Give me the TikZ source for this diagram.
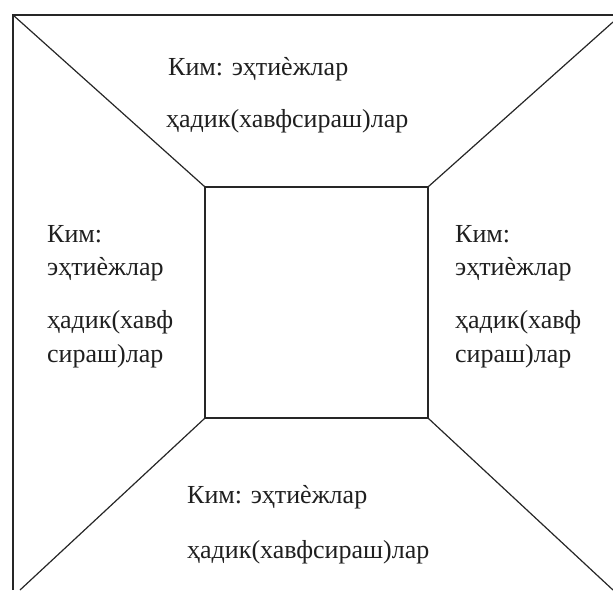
\documentclass[tikz,border=0pt]{standalone}
\usepackage{fontspec}
\setmainfont{Liberation Serif}
\begin{document}
\begin{tikzpicture}[x=1pt,y=-1pt,
every node/.style={font=\fontsize{26}{31}\selectfont,text=black!88},
wall/.style={line width=1.2pt,draw=black!85},
lbl/.style={anchor=base west,inner sep=0pt}]
\useasboundingbox (0,0) rectangle (613,590);
\coordinate (tl) at (13,15);
\coordinate (ftr) at (613,15);
\coordinate (fbl) at (13,590);
\coordinate (tr) at (613,22);
\coordinate (bl) at (20,590);
\coordinate (br) at (613,590);
\node[wall,draw,rectangle,inner sep=0pt,minimum width=223pt,minimum height=231pt] (room) at (316.5,302.5) {};
\draw[wall] (fbl)--(tl)--(ftr);
\draw[wall] (tl)--(room.north west);
\draw[wall] (tr)--(room.north east);
\draw[wall] (bl)--(room.south west);
\draw[wall] (br)--(room.south east);
% top
\node[lbl] (t1) at (168,75) {Ким: эҳтиѐжлар};
\node[lbl] (t2) at (166,127) {ҳадик(хавфсираш)лар};
% left
\node[lbl] (l1) at (47,242) {Ким:};
\node[lbl] (l2) at (47,275) {эҳтиѐжлар};
\node[lbl] (l3) at (47,328) {ҳадик(хавф};
\node[lbl] (l4) at (47,362) {сираш)лар};
% right
\node[lbl] (r1) at (455,242) {Ким:};
\node[lbl] (r2) at (455,275) {эҳтиѐжлар};
\node[lbl] (r3) at (455,328) {ҳадик(хавф};
\node[lbl] (r4) at (455,362) {сираш)лар};
% bottom
\node[lbl] (b1) at (187,503) {Ким: эҳтиѐжлар};
\node[lbl] (b2) at (187,558) {ҳадик(хавфсираш)лар};
\end{tikzpicture}
\end{document}
